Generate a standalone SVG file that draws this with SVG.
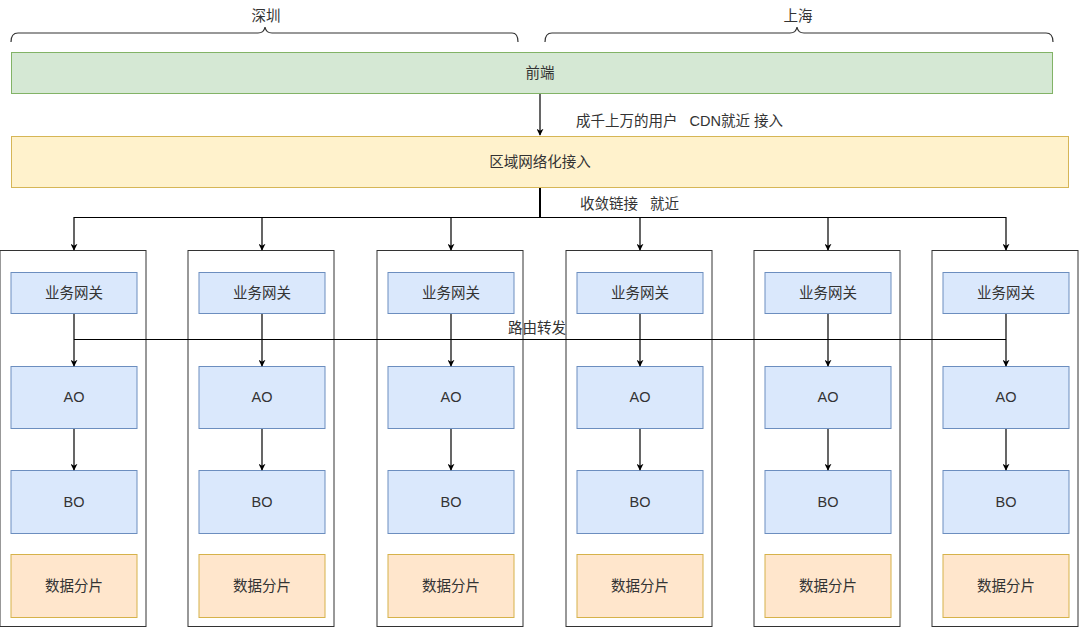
<svg xmlns="http://www.w3.org/2000/svg" width="1080" height="628" viewBox="0 0 1080 628">
<style>
text{font-family:"Liberation Sans","Noto Sans CJK SC",sans-serif;font-size:14.5px;fill:#333;text-anchor:middle;dominant-baseline:central}
text.lbl{text-anchor:start;white-space:pre}
.col{fill:#fff;stroke:#333;stroke-width:1}
.blue{fill:#dae8fc;stroke:#6c8ebf;stroke-width:1}
.org{fill:#ffe6cc;stroke:#d6b24a;stroke-width:1}
.edge{fill:none;stroke:#000;stroke-width:1.2}
.arr{marker-end:url(#ah)}
.brace{fill:none;stroke:#333;stroke-width:1.2}
</style>
<defs>
<marker id="ah" viewBox="0 0 10 10" refX="9" refY="5" markerWidth="7" markerHeight="7" markerUnits="userSpaceOnUse" orient="auto">
<path d="M0,0 L10,5 L0,10 L3,5 Z" fill="#000"/>
</marker>
<g id="colT">
<rect class="col" x="-10.5" y="250.5" width="146" height="376"/>
<rect class="blue" x="0.5" y="272.5" width="126" height="41"/>
<text x="63.5" y="293">业务网关</text>
<rect class="blue" x="0.5" y="366.5" width="126" height="62"/>
<text x="63.5" y="397">AO</text>
<rect class="blue" x="0.5" y="470.5" width="126" height="63"/>
<text x="63.5" y="502">BO</text>
<rect class="org" x="0.5" y="554.5" width="126" height="63"/>
<text x="63.5" y="586">数据分片</text>
</g>
</defs>
<rect width="1080" height="628" fill="#fff"/>
<g id="brace-shenzhen">
<path class="brace" d="M11,42 Q11,33 18,33 H258 Q264,33 265,27 Q266,33 272,33 H512 Q518,33 518,42"/>
<text x="266" y="16">深圳</text>
</g>
<g id="brace-shanghai">
<path class="brace" d="M545,42 Q545,33 552,33 H790 Q796,33 797,27 Q798,33 804,33 H1046 Q1053,33 1053,42"/>
<text x="798" y="16">上海</text>
</g>
<g id="frontend">
<rect x="11.5" y="52.5" width="1041" height="41" fill="#d5e8d4" stroke="#82b366"/>
<text x="540" y="73">前端</text>
</g>
<g id="region-access">
<rect x="11.5" y="136.5" width="1057" height="51" fill="#fff2cc" stroke="#d6b656"/>
<text x="540" y="162">区域网络化接入</text>
</g>
<g id="col1"><use href="#colT" x="10.5"/></g>
<g id="col2"><use href="#colT" x="198.5"/></g>
<g id="col3"><use href="#colT" x="387.5"/></g>
<g id="col4"><use href="#colT" x="576.5"/></g>
<g id="col5"><use href="#colT" x="764.5"/></g>
<g id="col6"><use href="#colT" x="942.5"/></g>
<g id="connectors">
<path class="edge arr" d="M540,94 V135"/>
<path class="edge arr" d="M540,188 V217.5 H74 V250"/>
<path class="edge arr" d="M540,188 V217.5 H262 V250"/>
<path class="edge arr" d="M540,188 V217.5 H451 V250"/>
<path class="edge arr" d="M540,188 V217.5 H640 V250"/>
<path class="edge arr" d="M540,188 V217.5 H828 V250"/>
<path class="edge arr" d="M540,188 V217.5 H1006 V250"/>
<path class="edge" d="M74,339.5 H1006"/>
<path class="edge arr" d="M74,314 V366"/>
<path class="edge arr" d="M262,314 V366"/>
<path class="edge arr" d="M451,314 V366"/>
<path class="edge arr" d="M640,314 V366"/>
<path class="edge arr" d="M828,314 V366"/>
<path class="edge arr" d="M1006,314 V366"/>
<path class="edge arr" d="M74,429 V470"/>
<path class="edge arr" d="M262,429 V470"/>
<path class="edge arr" d="M451,429 V470"/>
<path class="edge arr" d="M640,429 V470"/>
<path class="edge arr" d="M828,429 V470"/>
<path class="edge arr" d="M1006,429 V470"/>
<text class="lbl" x="576" y="121" xml:space="preserve">成千上万的用户   CDN就近 接入</text>
<text class="lbl" x="580" y="204" xml:space="preserve">收敛链接   就近</text>
<text x="537" y="328">路由转发</text>
</g>
</svg>
